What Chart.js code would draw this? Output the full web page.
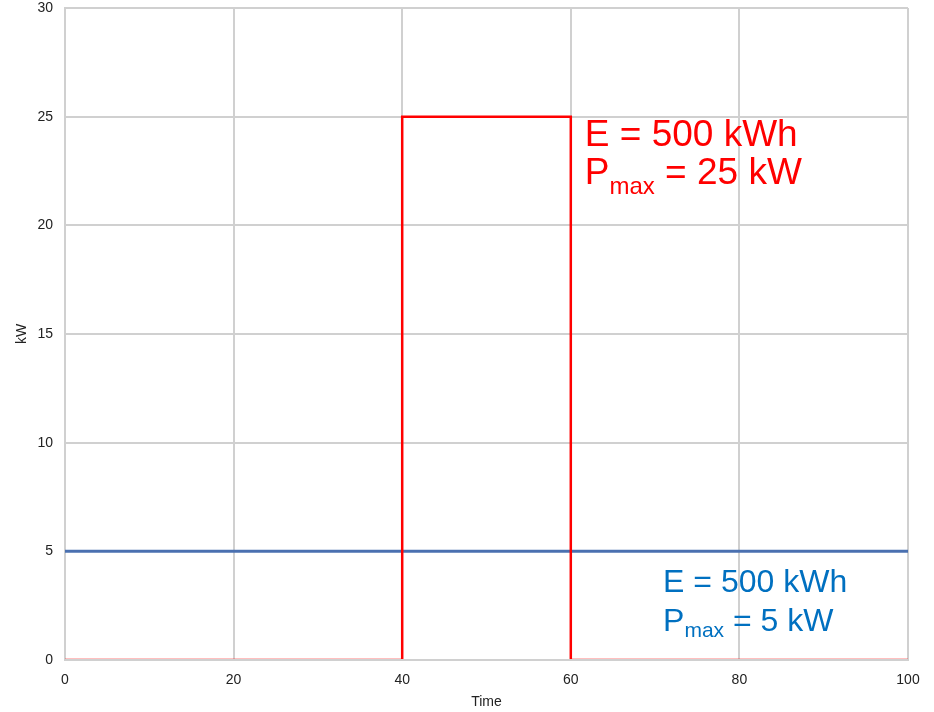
<!DOCTYPE html>
<html>
<head>
<meta charset="utf-8">
<script src="https://cdn.jsdelivr.net/npm/chart.js@4"></script>
<style>
  html, body { margin: 0; padding: 0; background: #fff; }
  canvas { display: block; }
</style>
</head>
<body>
<canvas id="chart" width="934" height="712"></canvas>
<script>
// data
const redTimes = [0, 40, 40, 60, 60, 100];
const redPower = [0, 0, 25, 25, 0, 0];
const blueTimes = [0, 100];
const bluePower = [5, 5];
const xTicks = [0, 20, 40, 60, 80, 100];
const yTicks = [0, 5, 10, 15, 20, 25, 30];

const redNote = { e: "E = 500 kWh", p: "P", sub: "max", rest: " = 25 kW" };
const blueNote = { e: "E = 500 kWh", p: "P", sub: "max", rest: " = 5 kW" };

const FONT = "'Liberation Sans', Arial, Helvetica, sans-serif";

function toPoints(xs, ys) {
    return xs.map((x, i) => ({ x: x, y: ys[i] }));
}

function drawNote(ctx, note, x, y, big, small, lineGap, subDrop, color) {
    ctx.save();
    ctx.fillStyle = color;
    ctx.textBaseline = "alphabetic";
    ctx.textAlign = "left";
    ctx.font = big + "px " + FONT;
    ctx.fillText(note.e, x, y);
    const y2 = y + lineGap;
    ctx.fillText(note.p, x, y2);
    let cx = x + ctx.measureText(note.p).width;
    ctx.font = small + "px " + FONT;
    ctx.fillText(note.sub, cx, y2 + subDrop);
    cx += ctx.measureText(note.sub).width;
    ctx.font = big + "px " + FONT;
    ctx.fillText(note.rest, cx, y2);
    ctx.restore();
}

const notesPlugin = {
    id: "notes",
    afterDatasetsDraw(chart) {
        const ctx = chart.ctx;
        const xs = chart.scales.x, ys = chart.scales.y;

        // bottom axis line sits over the red baseline
        ctx.save();
        ctx.strokeStyle = "#d0d0d0";
        ctx.lineWidth = 2;
        ctx.beginPath();
        ctx.moveTo(xs.left, ys.getPixelForValue(0));
        ctx.lineTo(xs.right, ys.getPixelForValue(0));
        ctx.stroke();
        ctx.restore();

        drawNote(ctx, redNote,
            xs.getPixelForValue(60) + 14, ys.getPixelForValue(25) + 29,
            37, 24, 38, 10, "#ff0000");
        drawNote(ctx, blueNote,
            xs.getPixelForValue(70) + 8, ys.getPixelForValue(5) + 41,
            32, 21, 39, 6, "#0070c0");
    }
};

const ctx = document.getElementById("chart").getContext("2d");

new Chart(ctx, {
    type: "scatter",
    data: {
        datasets: [{
            label: "Red",
            data: toPoints(redTimes, redPower),
            showLine: true,
            borderColor: "#ff0000",
            borderWidth: 2.5,
            pointRadius: 0,
            tension: 0,
            fill: false
        }, {
            label: "Blue",
            data: toPoints(blueTimes, bluePower),
            showLine: true,
            borderColor: "#4a70b0",
            borderWidth: 3,
            pointRadius: 0,
            tension: 0,
            fill: false
        }]
    },
    options: {
        responsive: false,
        animation: false,
        devicePixelRatio: 1,
        layout: { padding: { top: 8, right: 26, bottom: 0, left: 0 } },
        scales: {
            x: {
                type: "linear",
                min: 0,
                max: 100,
                afterBuildTicks: s => { s.ticks = xTicks.map(v => ({ value: v })); },
                afterFit: s => { s.height = 52; s.paddingLeft = 0; s.paddingRight = 0; },
                grid: { color: "#d0d0d0", lineWidth: 2, drawTicks: false },
                border: { color: "#d0d0d0", width: 2 },
                ticks: {
                    padding: 12,
                    maxRotation: 0,
                    autoSkip: false,
                    color: "#222",
                    font: { family: FONT, size: 14 }
                },
                title: {
                    display: true,
                    text: "Time",
                    color: "#222",
                    padding: { top: 0, bottom: 1 },
                    font: { family: FONT, size: 14 }
                }
            },
            y: {
                type: "linear",
                min: 0,
                max: 30,
                afterBuildTicks: s => { s.ticks = yTicks.map(v => ({ value: v })); },
                afterFit: s => { s.width = 65; s.paddingTop = 0; s.paddingBottom = 0; },
                grid: { color: "#d0d0d0", lineWidth: 2, drawTicks: false },
                border: { color: "#d0d0d0", width: 2 },
                ticks: {
                    padding: 12,
                    autoSkip: false,
                    color: "#222",
                    font: { family: FONT, size: 14 }
                },
                title: {
                    display: true,
                    text: "kW",
                    color: "#222",
                    padding: { top: 14, bottom: 0 },
                    font: { family: FONT, size: 14 }
                }
            }
        },
        plugins: {
            legend: { display: false },
            tooltip: { enabled: false }
        }
    },
    plugins: [notesPlugin]
});
</script>
</body>
</html>
